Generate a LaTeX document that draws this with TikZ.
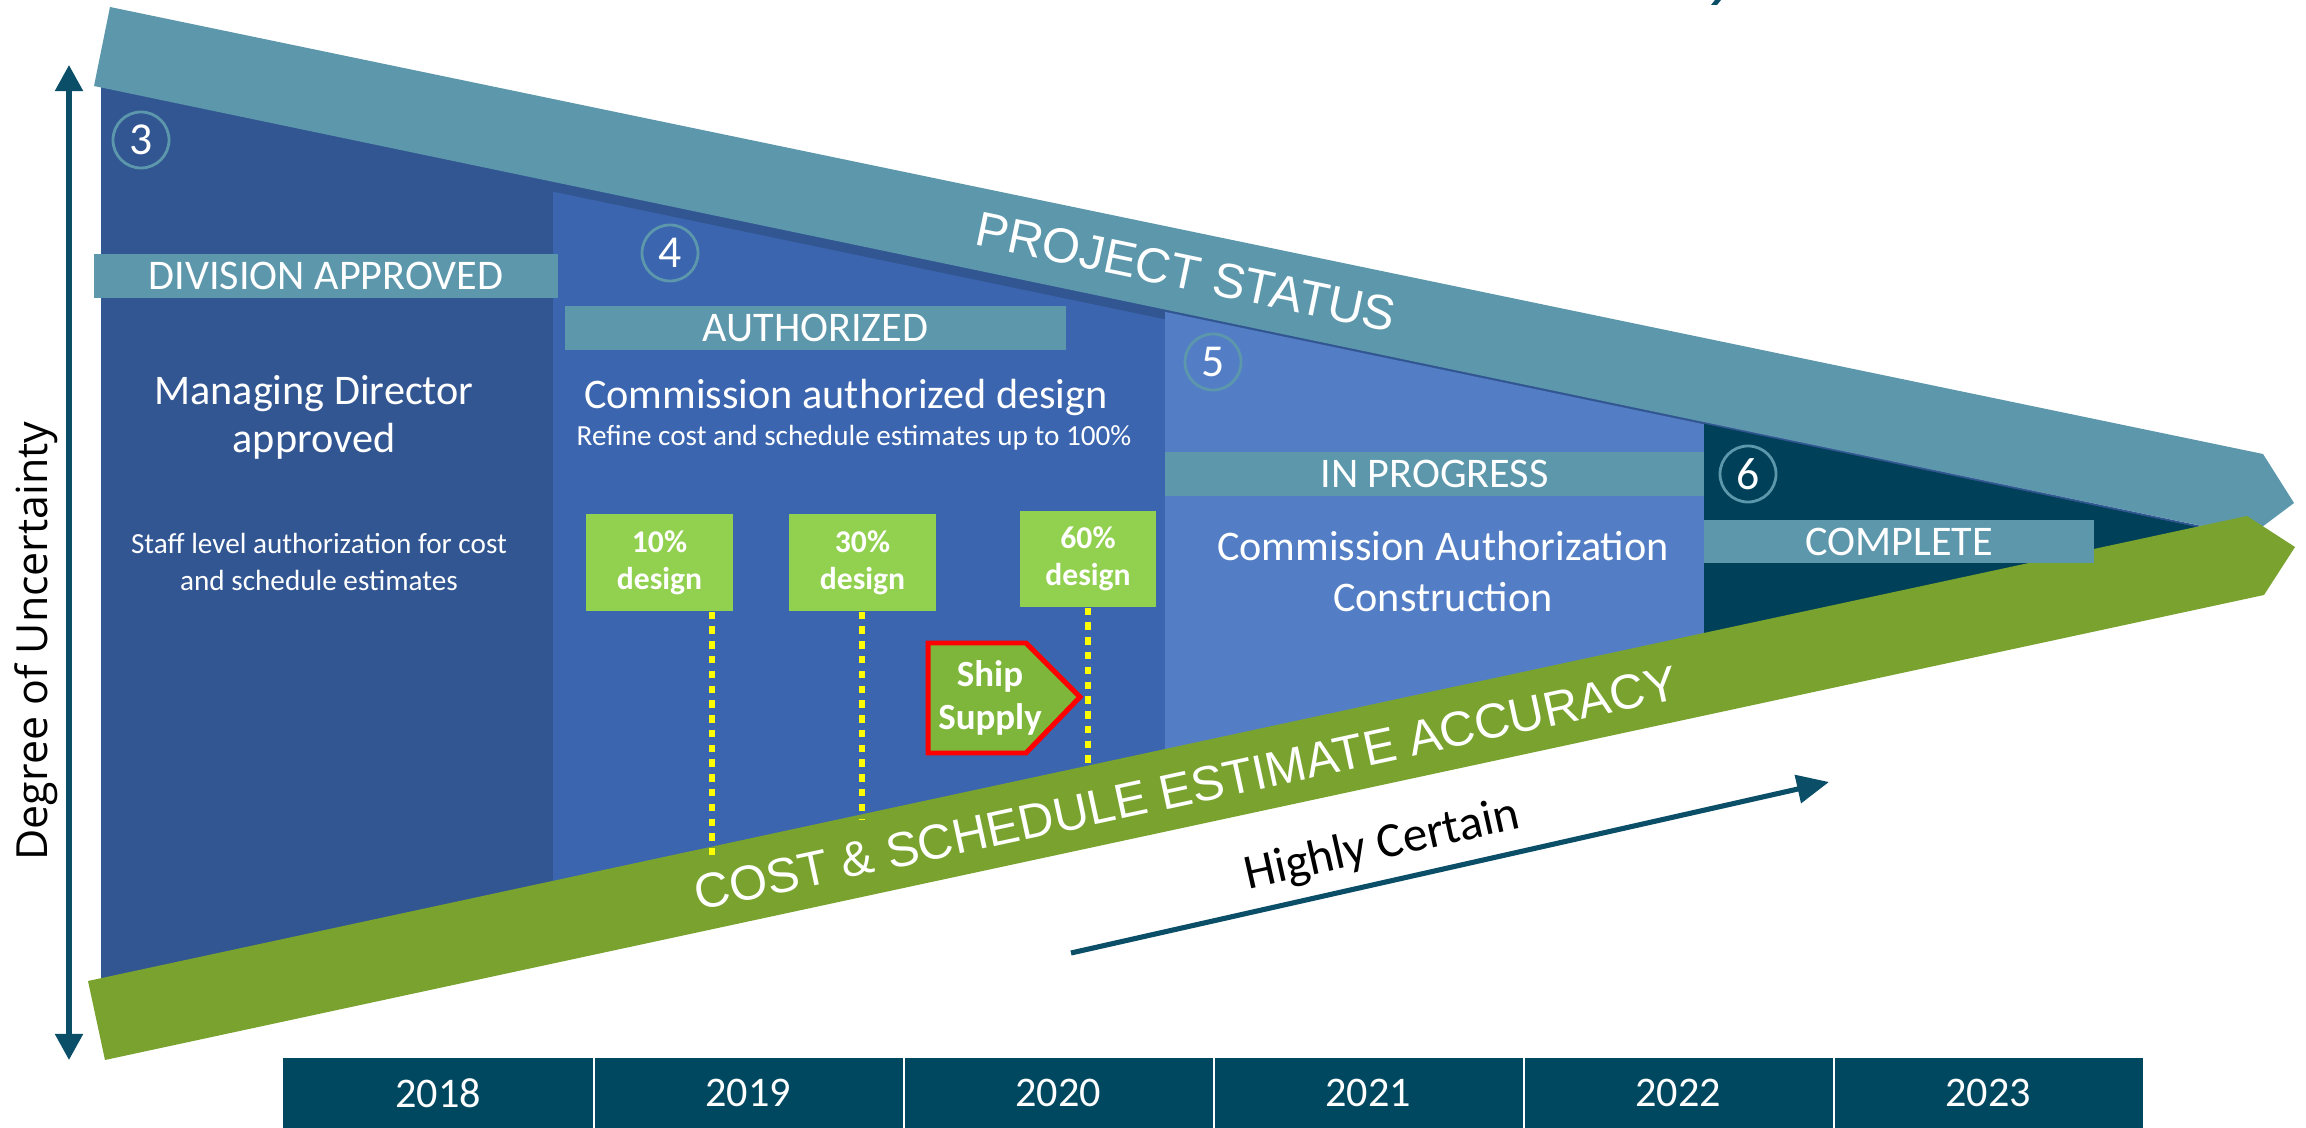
\documentclass[tikz,border=0pt]{standalone}
\usepackage{fontspec}
\setmainfont{Carlito}
\newfontfamily\bandfont{Liberation Sans}
\newfontfamily\axisfont{Open Sans}
\usetikzlibrary{arrows.meta}

\definecolor{statusteal}{RGB}{92,151,171}
\definecolor{phaseA}{RGB}{50,86,146}
\definecolor{phaseB}{RGB}{59,101,175}
\definecolor{phaseC}{RGB}{83,126,197}
\definecolor{phaseD}{RGB}{0,64,89}
\definecolor{accgreen}{RGB}{121,163,46}
\definecolor{designgreen}{RGB}{146,208,80}
\definecolor{shipgreen}{RGB}{125,182,58}
\definecolor{yearblue}{RGB}{0,72,96}
\definecolor{axisblue}{RGB}{10,78,104}
\definecolor{dotyellow}{RGB}{255,255,0}

\begin{document}
\begin{tikzpicture}[x=0.01cm,y=-0.01cm,
  lbar/.style={fill=statusteal,text=white,inner sep=0pt,minimum height=0.44cm,font=\fontsize{12}{14}\selectfont},
  numc/.style={circle,draw=statusteal,line width=0.8pt,minimum size=0.56cm,inner sep=0pt,text=white,font=\fontsize{13}{15}\selectfont},
  dbox/.style={fill=designgreen,text=white,inner sep=0pt,align=center,font=\fontsize{9}{10.5}\selectfont\bfseries},
  ycell/.style={fill=yearblue,text=white,inner sep=0pt,minimum width=3.1cm,minimum height=0.7cm,font=\fontsize{12}{14}\selectfont},
  dotln/.style={draw=dotyellow,line width=1.7pt,dash pattern=on 2.1pt off 2.1pt},
  bandtxt/.style={text=white,font=\bandfont\fontsize{13.9}{16}\selectfont,inner sep=0pt},
  wtxt/.style={text=white,align=center,inner sep=0pt},
  axarrow/.style={draw=axisblue,line width=1.45pt}
]
\useasboundingbox (0,0) rectangle (2306,1128);

% phase areas, each one stacked over the previous
\fill[phaseA] (101,84) -- (2202,526) -- (101,981) -- cycle;
\fill[phaseB] (553,191.7) -- (2178.6,530.8) -- (553,884) -- cycle;
\fill[phaseC] (1165,311.9) -- (2196,527) -- (1165,752) -- cycle;
\fill[phaseD] (1704,423.8) -- (2197,527) -- (1704,636) -- cycle;

% project status band (top) and estimate accuracy band (bottom)
\fill[statusteal] (110,7) -- (2263,454) -- (2294,503) -- (2250,536) -- (94,86) -- cycle;
\fill[accgreen] (88,981) -- (2247,516) -- (2295,547) -- (2264,595) -- (105,1060) -- cycle;

\node[bandtxt,rotate=-11.8] (pstat) at (1186,272) {PROJECT STATUS};
\node[bandtxt,rotate=12.2] (cost) at (1186,788) {COST \& SCHEDULE ESTIMATE ACCURACY};

% phase labels
\node[lbar,minimum width=4.64cm] (divbar) at (326,276) {DIVISION APPROVED};
\node[lbar,minimum width=5.01cm] (authbar) at (815.5,328) {AUTHORIZED};
\node[lbar,minimum width=5.39cm] (progbar) at (1434.5,474) {IN PROGRESS};
\node[lbar,minimum width=3.90cm,minimum height=0.43cm] (compbar) at (1899,541.5) {COMPLETE};

% phase numbers
\node[numc] (n3) at (141,140) {3};
\node[numc] (n4) at (670,253) {4};
\node[numc] (n5) at (1213,362) {5};
\node[numc] (n6) at (1748,474) {6};

% phase descriptions
\node[wtxt,font=\fontsize{12}{13.7}\selectfont] (mdir) at (314,417) {Managing Director\\approved};
\node[wtxt,font=\fontsize{8.3}{10.5}\selectfont] (staff) at (319,562) {Staff level authorization for cost\\and schedule estimates};
\node[wtxt,font=\fontsize{12}{14}\selectfont] (cad) at (846,397) {Commission authorized design};
\node[wtxt,font=\fontsize{8.3}{10}\selectfont] (refine) at (854,438) {Refine cost and schedule estimates up to 100\%};
\node[wtxt,font=\fontsize{12}{14.5}\selectfont] (cac) at (1443,571.5) {Commission Authorization\\Construction};

% design milestones
\node[dbox,minimum width=1.47cm,minimum height=0.97cm] (d10) at (659.5,562.5) {10\%\\design};
\node[dbox,minimum width=1.47cm,minimum height=0.97cm] (d30) at (862.5,562.5) {30\%\\design};
\node[dbox,minimum width=1.36cm,minimum height=0.96cm] (d60) at (1088,559) {60\%\\design};

% ship supply marker
\filldraw[fill=shipgreen,draw=red,line width=1.42pt,line join=miter]
  (928,643) -- (1026,643) -- (1080,697) -- (1026,753) -- (928,753) -- cycle;
\node[text=white,align=center,font=\fontsize{10.5}{12.2}\selectfont\bfseries,inner sep=0pt] (ship) at (990,698) {Ship\\Supply};

\coordinate (e10) at (712,856);
\coordinate (e30) at (862,820);
\coordinate (e60) at (1088,770);
\draw[dotln] (d10.south -| e10) -- (e10);
\draw[dotln] (d30.south -| e30) -- (e30);
\draw[dotln] (d60.south) -- (e60);

% timeline
\node[ycell] (y18) at (438,1093) {2018};
\node[ycell] (y19) at (748,1093) {2019};
\node[ycell] (y20) at (1058,1093) {2020};
\node[ycell] (y21) at (1368,1093) {2021};
\node[ycell] (y22) at (1678,1093) {2022};
\node[ycell] (y23) at (1988,1093) {2023};
\foreach \c in {y18,y19,y20,y21,y22}
  \draw[white,line width=0.6pt] (\c.north east) -- (\c.south east);

% uncertainty axis
\coordinate (utop) at (69,65);
\coordinate (ubot) at (69,1060);
\draw[axarrow,{Triangle[length=0.26cm,width=0.27cm]}-{Triangle[length=0.26cm,width=0.27cm]}] (utop) -- (ubot);
\node[rotate=90,font=\axisfont\fontsize{12.2}{14}\selectfont,inner sep=0pt] (deg) at (36,641) {Degree of Uncertainty};

% certainty arrow
\coordinate (hcs) at (1071,953);
\coordinate (hce) at (1829,782);
\draw[axarrow,-{Triangle[length=0.32cm,width=0.28cm]}] (hcs) -- (hce);
\node[rotate=12.7,font=\fontsize{14}{16}\selectfont,inner sep=0pt] (hc) at (1382,846) {Highly Certain};

% stray stroke at the top edge
\fill[axisblue] (1711,5) -- (1717,5) -- (1721,0) -- (1715,0) -- cycle;
\end{tikzpicture}
\end{document}
